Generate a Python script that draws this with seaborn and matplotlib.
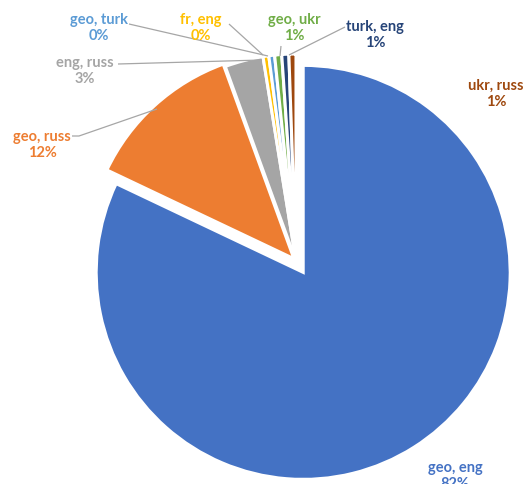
import matplotlib
matplotlib.use("Agg")
import matplotlib.pyplot as plt
import seaborn as sns

categories = ["geo, eng", "geo, russ", "eng, russ", "fr, eng", "geo, turk",
              "geo, ukr", "turk, eng", "ukr, russ"]
shares = [82.05, 12.4, 3.0, 0.45, 0.45, 0.55, 0.55, 0.55]
colors = ["#4472C4", "#ED7D31", "#A5A5A5", "#FFC000", "#5B9BD5",
          "#70AD47", "#264478", "#9E480E"]
label_colors = ["#4472C4", "#ED7D31", "#A5A5A5", "#FFC000", "#5B9BD5",
                "#70AD47", "#264478", "#9E480E"]
explode = [0.065, 0.015, 0, 0, 0, 0, 0, 0]

sns.set_theme(style="white")
plt.rcParams["font.family"] = ["Lato", "DejaVu Sans"]

W, H = 523, 485
fig = plt.figure(figsize=(W / 100, H / 100), dpi=100)
ax = fig.add_axes([0, 0, 1, 1])

CX, CY, R = 296, 262, 207


def px(x, y):
    return ((x - CX) / R, (CY - y) / R)


ax.pie(shares, colors=colors, startangle=90, counterclock=False,
       explode=explode, radius=1.0,
       wedgeprops=dict(edgecolor="white", linewidth=2.2))

ax.set_xlim(-CX / R, (W - CX) / R)
ax.set_ylim(-(H - CY) / R, CY / R)
ax.set_aspect("equal")
ax.axis("off")

total = sum(shares)
label_pos = {
    "geo, eng": (455, 476),
    "geo, russ": (42, 145),
    "eng, russ": (85, 71),
    "fr, eng": (201, 28),
    "geo, turk": (99, 28),
    "geo, ukr": (294, 28),
    "turk, eng": (375, 35),
    "ukr, russ": (496, 94),
}
leaders = {
    "geo, russ": [(72, 137), (79, 137), (157, 110)],
    "eng, russ": [(118, 65), (262, 61)],
    "fr, eng": [(229, 25), (263, 56)],
    "geo, turk": [(129, 25), (268, 57)],
    "geo, ukr": [(281, 47), (280, 57)],
    "turk, eng": [(345, 28), (289, 56)],
}

for cat, val, col in zip(categories, shares, label_colors):
    x, y = px(*label_pos[cat])
    pct = int(round(100 * val / total))
    ax.text(x, y, f"{cat}\n{pct}%", ha="center", va="center", color=col,
            fontsize=10.5, fontweight="bold", linespacing=1.2)
    if cat in leaders:
        pts = [px(*p) for p in leaders[cat]]
        ax.plot([p[0] for p in pts], [p[1] for p in pts], color="#A6A6A6",
                lw=0.9, solid_capstyle="butt")

fig.savefig("out.png", dpi=100)
